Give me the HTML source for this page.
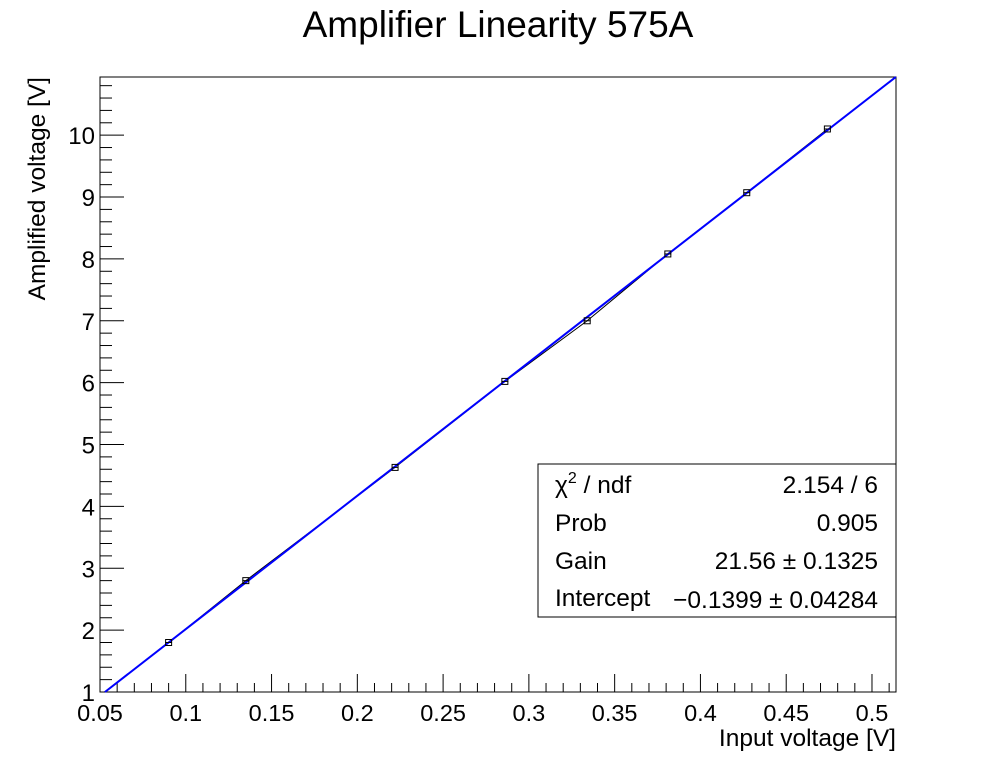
<!DOCTYPE html>
<html><head><meta charset="utf-8"><style>
body{margin:0;background:#fff;}
svg text{font-family:"Liberation Sans",sans-serif;}
</style></head><body>
<svg id="c" width="996" height="772" xmlns="http://www.w3.org/2000/svg">
<rect width="996" height="772" fill="#fff"/>
<text x="498" y="37" font-size="37" text-anchor="middle">Amplifier Linearity 575A</text>
<g id="axes"></g>
<g id="marks"></g>
<g>
<rect x="538" y="464" width="358" height="153" fill="#fff" stroke="#000" stroke-width="1"/>
<text x="555" y="493" font-size="24.5">χ<tspan font-size="16" dy="-10">2</tspan><tspan dy="10"> / ndf</tspan></text>
<text x="878" y="493" font-size="24.5" text-anchor="end">2.154 / 6</text>
<text x="555" y="531" font-size="24.5">Prob</text>
<text x="878" y="531" font-size="24.5" text-anchor="end">0.905</text>
<text x="555" y="569" font-size="24.5">Gain</text>
<text x="878" y="569" font-size="24.5" text-anchor="end">21.56 ± 0.1325</text>
<text x="555" y="606" font-size="24.5">Intercept</text>
<text x="878" y="608" font-size="24.5" text-anchor="end">−0.1399 ± 0.04284</text>
</g>
</svg>
<script>
const xVals=[0.09,0.135,0.222,0.286,0.334,0.381,0.427,0.474];
const yVals=[1.8,2.8,4.63,6.02,7.0,8.08,9.07,10.1];
const xErr=[0.002,0.002,0.002,0.002,0.002,0.002,0.002,0.002];
const xTickLabels=["0.05","0.1","0.15","0.2","0.25","0.3","0.35","0.4","0.45","0.5"];
const yTickLabels=["1","2","3","4","5","6","7","8","9","10"];
const gain=21.56, intercept=-0.1399;
const X0=100,X1=896,Y0=692,Y1=77;
const xmin=0.05,xmax=0.514,ymin=1,ymax=10.94;
const sx=v=>X0+(v-xmin)/(xmax-xmin)*(X1-X0);
const sy=v=>Y0-(v-ymin)/(ymax-ymin)*(Y0-Y1);
const NS="http://www.w3.org/2000/svg";
function mk(p,t,a){const e=document.createElementNS(NS,t);for(const k in a)e.setAttribute(k,a[k]);p.appendChild(e);return e;}
const ax=document.getElementById('axes'),mg=document.getElementById('marks');
const frame=mk(ax,'rect',{x:X0,y:Y1,width:X1-X0,height:Y0-Y1,fill:'none',stroke:'#000','stroke-width':1});


for(let i=0;;i++){const v=xmin+i*0.01;if(v>xmax+1e-9)break;const x=sx(v);const major=i%5===0;
 const t=mk(ax,'line',{x1:x,x2:x,y1:Y0,y2:Y0-(major?18:9),stroke:'#000'});
 
 }
xTickLabels.forEach(l=>{const t=mk(ax,'text',{x:sx(parseFloat(l)),y:Y0+29,'font-size':23.5,'text-anchor':'middle'});t.textContent=l;
 
 });
for(let i=0;;i++){const v=ymin+i*0.2;if(v>ymax+1e-9)break;const y=sy(v);const major=i%5===0;
 const t=mk(ax,'line',{x1:X0,x2:X0+(major?24:12),y1:y,y2:y,stroke:'#000'});
 
 }
yTickLabels.forEach(l=>{const t=mk(ax,'text',{x:X0-5,y:sy(parseFloat(l))+9,'font-size':24,'text-anchor':'end'});t.textContent=l;
 
 });
const xt=mk(ax,'text',{x:X1,y:746,'font-size':24.5,'text-anchor':'end'});xt.textContent='Input voltage [V]';


const yt=mk(ax,'text',{x:0,y:0,'font-size':24.5,'text-anchor':'end',transform:'translate(45,77) rotate(-90)'});yt.textContent='Amplified voltage [V]';


const pl=mk(mg,'polyline',{points:xVals.map((v,i)=>sx(v)+','+sy(yVals[i])).join(' '),fill:'none',stroke:'#000','stroke-width':1});


let fx0=Math.max(xmin,(ymin-intercept)/gain),fx1=Math.min(xmax,(ymax-intercept)/gain);
const fl=mk(mg,'line',{x1:sx(fx0),y1:sy(gain*fx0+intercept),x2:sx(fx1),y2:sy(gain*fx1+intercept),stroke:'#0000ff','stroke-width':2});


xVals.forEach((v,i)=>{const x=sx(v),y=sy(yVals[i]);
 const e=mk(mg,'line',{x1:sx(v-xErr[i]),x2:sx(v+xErr[i]),y1:y,y2:y,stroke:'#000'});
 
 
 const r=mk(mg,'rect',{x:x-3,y:y-3,width:6,height:6,fill:'none',stroke:'#000','stroke-width':1});
 
 });
</script>
</body></html>
